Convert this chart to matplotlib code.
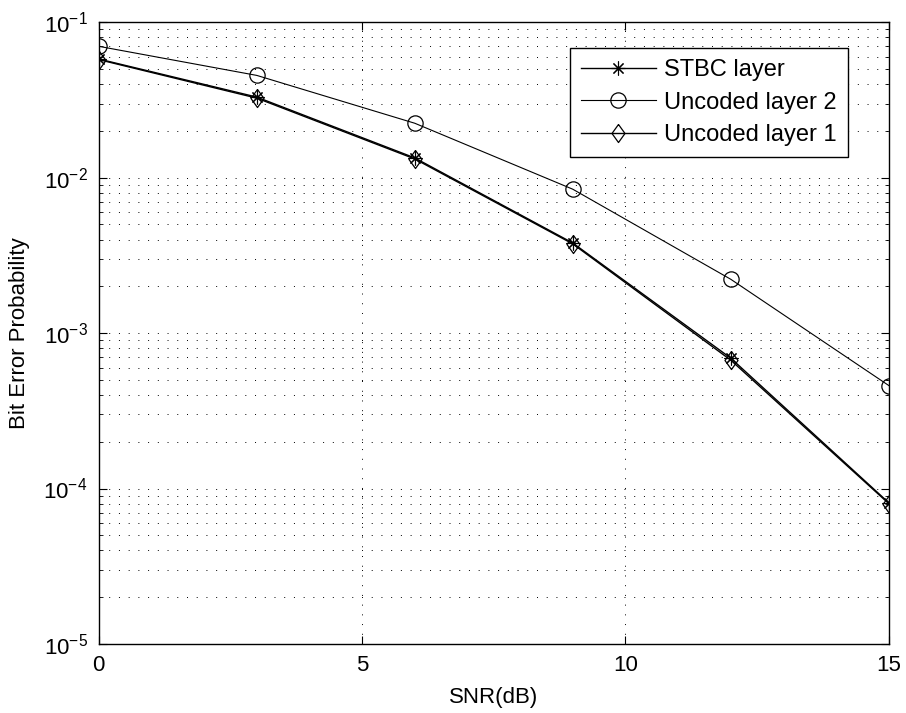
import numpy as np
from matplotlib import pyplot as plt
from matplotlib.ticker import LogLocator, NullFormatter

# SNR points and bit error rates
snr = [0, 3, 6, 9, 12, 15]
ber_stbc = [0.0580, 0.0330, 0.0134, 0.00380, 0.00069, 8.1e-5]
ber_uncoded2 = [0.0700, 0.0455, 0.0224, 0.00843, 0.00222, 4.6e-4]
ber_uncoded1 = [0.0575, 0.0325, 0.0132, 0.00375, 0.00067, 8.0e-5]

plt.rcParams['font.family'] = ['Liberation Sans', 'DejaVu Sans']
fs = 16

# matlab style diamond (wider than mpl's thin diamond)
diamond = [(0, 1), (0.72, 0), (0, -1), (-0.72, 0), (0, 1)]

fig = plt.figure(figsize=(9.06, 7.13), dpi=100)
ax = fig.add_axes([0.109, 0.0968, 0.872, 0.872])

ax.semilogy(snr, ber_stbc, color='k', lw=1.0, marker=(8, 2, 0), ms=10,
            mew=0.8, label='STBC layer')
ax.semilogy(snr, ber_uncoded2, color='k', lw=0.8, marker='o', ms=11,
            mfc='none', mew=0.9, label='Uncoded layer 2')
ax.semilogy(snr, ber_uncoded1, color='k', lw=1.0, marker=diamond, ms=13,
            mfc='none', mew=0.9, label='Uncoded layer 1')

ax.set_xlim(0, 15)
ax.set_ylim(1e-5, 1e-1)
ax.set_xticks([0, 5, 10, 15])
ax.yaxis.set_major_locator(LogLocator(base=10, numticks=10))
ax.yaxis.set_minor_locator(LogLocator(base=10, subs=np.arange(2, 10), numticks=20))
ax.yaxis.set_minor_formatter(NullFormatter())

ax.grid(True, which='major', ls=(0, (1, 9)), color='k', lw=0.7)
ax.grid(True, which='minor', axis='y', ls=(0, (1, 9)), color='k', lw=0.7)
ax.tick_params(which='both', direction='in', top=True, right=True, labelsize=fs)
ax.tick_params(which='major', length=6, pad=8)
ax.tick_params(which='minor', length=3)
for s in ax.spines.values():
    s.set_linewidth(1.0)

ax.set_xlabel('SNR(dB)', fontsize=fs, labelpad=8)
ax.set_ylabel('Bit Error Probability', fontsize=fs, labelpad=10)

leg = ax.legend(loc='upper right', bbox_to_anchor=(0.948, 0.958),
                borderaxespad=0, fontsize=17, fancybox=False, edgecolor='k',
                framealpha=1, handlelength=3.2, labelspacing=0.45,
                borderpad=0.45, handletextpad=0.35)
leg.get_frame().set_linewidth(1.0)

fig.savefig('out.png', dpi=100)
